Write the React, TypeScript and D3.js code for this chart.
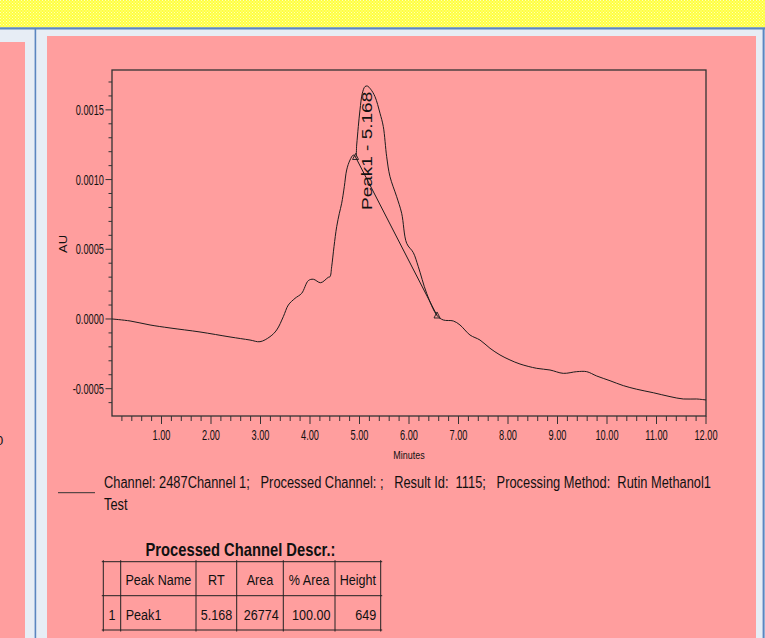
import React from 'react';
import * as d3 from 'd3';

// Chromatogram trace (minutes, AU)
const times = [0, 0.364, 0.768, 1.172, 1.778, 2.384, 2.788, 2.99, 3.192, 3.327, 3.461, 3.562, 3.697, 3.832, 3.966, 4.067, 4.216, 4.37, 4.404, 4.438, 4.485, 4.539, 4.593, 4.64, 4.693, 4.741, 4.808, 4.875, 4.92, 4.943, 4.976, 5.01, 5.057, 5.111, 5.158, 5.226, 5.313, 5.414, 5.481, 5.549, 5.616, 5.751, 5.852, 5.953, 6.087, 6.188, 6.357, 6.566, 6.693, 6.895, 7.03, 7.232, 7.434, 7.636, 7.838, 8.04, 8.242, 8.58, 8.848, 9.117, 9.388, 9.59, 9.792, 10.061, 10.329, 10.6, 10.935, 11.273, 11.541, 11.812, 12.0];
const absorbance = [0, -0.0000143, -0.000043, -0.0000646, -0.0000933, -0.000129, -0.000151, -0.000163, -0.000127, -0.0000789, 0.0000165, 0.0001, 0.000148, 0.000184, 0.000275, 0.000285, 0.00026, 0.000299, 0.000303, 0.000375, 0.000519, 0.000662, 0.000758, 0.00083, 0.000949, 0.001069, 0.00114, 0.001176, 0.001162, 0.001248, 0.00138, 0.0015, 0.001619, 0.001667, 0.001671, 0.001648, 0.001595, 0.001476, 0.00138, 0.001164, 0.001021, 0.000877, 0.000758, 0.000543, 0.000476, 0.000375, 0.000184, 0.0000251, -0.0000072, -0.0000143, -0.000043, -0.000115, -0.000151, -0.00021, -0.000258, -0.000294, -0.000323, -0.000354, -0.000366, -0.00039, -0.000378, -0.000378, -0.000409, -0.000443, -0.000478, -0.000504, -0.000529, -0.000557, -0.000574, -0.000574, -0.000581];

// Integration baseline (start/end markers)
const baselineTimes = [4.92, 6.566];
const baselineValues = [0.001162, 0.0000251];

const peakTime = 5.168;
const peakValue = 0.001671;
const peakLabel = 'Peak1 - 5.168';

const xDomain = [0, 12];
const yDomain = [-0.000696, 0.001786];
const xTickLabels = ['1.00', '2.00', '3.00', '4.00', '5.00', '6.00', '7.00', '8.00', '9.00', '10.00', '11.00', '12.00'];
const yTickValues = [-0.0005, 0, 0.0005, 0.001, 0.0015];
const yTickLabels = ['-0.0005', '0.0000', '0.0005', '0.0010', '0.0015'];

const xTitle = 'Minutes';
const yTitle = 'AU';
const legendLine1 = 'Channel: 2487Channel 1;   Processed Channel: ;   Result Id:  1115;   Processing Method:  Rutin Methanol1';
const legendLine2 = 'Test';

const tableTitle = 'Processed Channel Descr.:';
const tableHeaders = ['', 'Peak Name', 'RT', 'Area', '% Area', 'Height'];
const tableRow = ['1', 'Peak1', '5.168', '26774', '100.00', '649'];

const FONT = "'Liberation Sans', Arial, Helvetica, sans-serif";

export default function App() {
  const W = 765, H = 638;
  const x = d3.scaleLinear().domain(xDomain).range([112, 706]);
  const y = d3.scaleLinear().domain(yDomain).range([416, 70]);

  const pts = times.map((t, i) => [t, absorbance[i]] as [number, number]);
  const line = d3.line<[number, number]>()
    .x(d => x(d[0]))
    .y(d => y(d[1]))
    .curve(d3.curveCatmullRom.alpha(0.5));
  const basePts = baselineTimes.map((t, i) => [t, baselineValues[i]] as [number, number]);
  const baseLine = d3.line<[number, number]>().x(d => x(d[0])).y(d => y(d[1]));

  const xMinor = d3.range(1, 61).map(i => ({ v: i * 0.2, major: i % 5 === 0 }));
  const yMinor = d3.range(-6, 18).map(i => ({ v: i * 0.0001, major: i % 5 === 0 }));

  const tri = (cx: number, cy: number) =>
    `M${cx},${cy - 3.5}L${cx + 3},${cy + 2.5}L${cx - 3},${cy + 2.5}Z`;

  const colX = [103.3, 120.7, 196, 236.7, 283.3, 335, 380.7];
  const rowY = [561.7, 595.7, 630];

  const txt = (s: string, tx: number, ty: number, size: number, sx: number, anchor: string, weight = 'normal', key?: any) => (
    <text key={key} transform={`translate(${tx},${ty}) scale(${sx},1)`} textAnchor={anchor}
      fontFamily={FONT} fontSize={size} fontWeight={weight} fill="#111">{s}</text>
  );

  return (
    <svg width={W} height={H} style={{ position: 'absolute', left: 0, top: 0, display: 'block' }}>
      <defs>
        <pattern id="dither" width="3" height="3" patternUnits="userSpaceOnUse">
          <rect width="3" height="3" fill="#ffff40" />
          <rect x="0" y="0" width="1" height="1" fill="#ffffb8" />
          <rect x="1.5" y="1.5" width="1" height="1" fill="#ffffb8" />
        </pattern>
      </defs>
      <rect x={0} y={0} width={W} height={H} fill="#e7edf5" />
      <rect x={0} y={0} width={W} height={27.5} fill="url(#dither)" />
      <rect x={0} y={27.3} width={W} height={2.2} fill="#5b86c0" />
      <rect x={34.6} y={29} width={1.6} height={H} fill="#5b86c0" />
      <rect x={762.6} y={29} width={2} height={H} fill="#5b86c0" />
      <rect x={0} y={42} width={25} height={H} fill="#ff9e9e" />
      <rect x={47} y={36} width={709} height={H} fill="#ff9e9e" />
      <text x={-4} y={445} fontFamily={FONT} fontSize={13} fill="#111">0</text>

      {/* plot frame */}
      <rect x={112} y={70} width={594} height={346} fill="none" stroke="#333" strokeWidth={1.3} />

      {/* y ticks */}
      {yMinor.map((t, i) => (
        <line key={'yt' + i} x1={112} x2={t.major ? 105.5 : 108.5} y1={y(t.v)} y2={y(t.v)} stroke="#333" strokeWidth={1} />
      ))}
      {yTickValues.map((v, i) => txt(yTickLabels[i], 104, y(v) + 5, 14, 0.66, 'end', 'normal', 'yl' + i))}

      {/* x ticks */}
      {xMinor.map((t, i) => (
        <line key={'xt' + i} x1={x(t.v)} x2={x(t.v)} y1={416} y2={t.major ? 424 : 421} stroke="#333" strokeWidth={1} />
      ))}
      {xTickLabels.map((s, i) => txt(s, x(i + 1), 439.5, 14, 0.66, 'middle', 'normal', 'xl' + i))}

      {txt(xTitle, 409, 459, 11.5, 0.78, 'middle')}
      <text transform={`translate(66.7,244) scale(0.9,1) rotate(-90)`} textAnchor="middle"
        fontFamily={FONT} fontSize={13} fill="#111">{yTitle}</text>

      {/* trace */}
      <path d={line(pts) || ''} fill="none" stroke="#1c1c1c" strokeWidth={1} />
      <path d={baseLine(basePts) || ''} fill="none" stroke="#1c1c1c" strokeWidth={1} />
      {basePts.map((p, i) => (
        <path key={'tr' + i} d={tri(x(p[0]), y(p[1]))} fill="none" stroke="#1c1c1c" strokeWidth={0.9} />
      ))}
      <text transform={`translate(${x(peakTime) + 3.9},${y(peakValue) + 124}) scale(0.73,1) rotate(-90)`}
        fontFamily={FONT} fontSize={19} fill="#111">{peakLabel}</text>

      {/* legend */}
      <line x1={58} x2={95} y1={492.7} y2={492.7} stroke="#333" strokeWidth={1} />
      <text x={104} y={488} fontFamily={FONT} fontSize={16} fill="#111" textLength={607}
        lengthAdjust="spacingAndGlyphs" style={{ whiteSpace: 'pre' }}>{legendLine1}</text>
      {txt(legendLine2, 104, 510, 16, 0.8, 'start')}

      {/* table */}
      {txt(tableTitle, 240.5, 556, 18, 0.82, 'middle', 'bold')}
      {rowY.map((ry, i) => (
        <line key={'hr' + i} x1={colX[0] - 1.5} x2={colX[colX.length - 1] + 1.5} y1={ry} y2={ry} stroke="#222" strokeWidth={1} />
      ))}
      {colX.map((cx, i) => (
        <line key={'vr' + i} x1={cx} x2={cx} y1={rowY[0] - 1.5} y2={rowY[2] + 1.5} stroke="#222" strokeWidth={1} />
      ))}
      {tableHeaders.map((h, i) => i === 0 ? null :
        txt(h, (colX[i] + colX[i + 1]) / 2, 585, 15, 0.84, 'middle', 'normal', 'th' + i))}
      {tableRow.map((c, i) => {
        if (i === 0) return txt(c, (colX[0] + colX[1]) / 2, 620, 15, 0.84, 'middle', 'normal', 'td' + i);
        if (i === 1) return txt(c, colX[1] + 5, 620, 15, 0.84, 'start', 'normal', 'td' + i);
        return txt(c, colX[i + 1] - 4.5, 620, 15, 0.84, 'end', 'normal', 'td' + i);
      })}
    </svg>
  );
}
